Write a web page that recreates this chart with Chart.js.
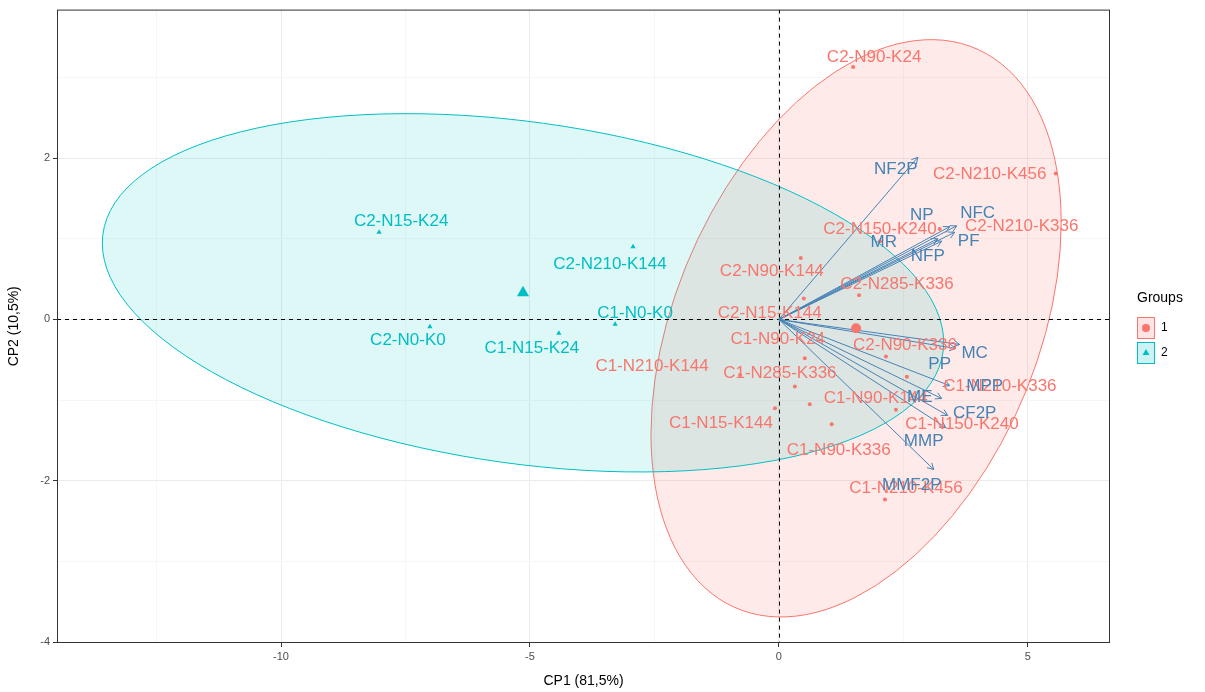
<!DOCTYPE html>
<html>
<head>
<meta charset="utf-8">
<script src="https://cdn.jsdelivr.net/npm/chart.js@4.4.0/dist/chart.umd.min.js"></script>
<style>
  html, body { margin: 0; padding: 0; background: #fff; }
</style>
</head>
<body>
<canvas id="chart" width="1205" height="692"></canvas>
<script>
// individuals, group 1 (circles)
const g1Names = ["C2-N90-K24", "C2-N210-K456", "C2-N210-K336", "C2-N150-K240", "C2-N90-K144",
  "C2-N285-K336", "C2-N15-K144", "C1-N90-K24", "C2-N90-K336", "C1-N210-K144", "C1-N285-K336",
  "C1-N90-K144", "C1-N15-K144", "C1-N90-K336", "C1-N210-K456", "C1-N150-K240", "C1-N210-K336"];
const g1X = [1.49, 5.56, 3.23, 2.03, 0.44, 1.61, 0.50, 0.52, 2.15, -0.78, 0.32, 0.62, -0.08, 1.06, 2.13, 2.35, 2.57];
const g1Y = [3.13, 1.81, 1.12, 0.97, 0.76, 0.30, 0.26, -0.48, -0.46, -0.69, -0.83, -1.05, -1.10, -1.30, -2.23, -1.12, -0.71];

// individuals, group 2 (triangles)
const g2Names = ["C2-N15-K24", "C2-N210-K144", "C2-N0-K0", "C1-N15-K24", "C1-N0-K0"];
const g2X = [-8.03, -2.93, -7.01, -4.42, -3.29];
const g2Y = [1.08, 0.90, -0.09, -0.17, -0.06];

// group means and ellipse covariance
const centroidX = [1.55, -5.14];
const centroidY = [-0.11, 0.33];
const ellSxx = [16.97, 71.4];
const ellSxy = [5.4, -5.2];
const ellSyy = [12.8, 4.93];

// variables (arrows)
const varNames = ["NF2P", "NP", "NFC", "MR", "PF", "NFP", "MC", "PP", "MPP", "ME", "CF2P", "MMP", "MMF2P"];
const varX = [2.79, 3.43, 3.57, 3.19, 3.53, 3.27, 3.63, 3.55, 3.43, 3.27, 3.39, 3.35, 3.11];
const varY = [2.01, 1.15, 1.16, 1.00, 1.08, 0.97, -0.31, -0.36, -0.82, -0.98, -1.19, -1.34, -1.86];

// ticks
const xTicks = [-12.5, -10, -7.5, -5, -2.5, 0, 2.5, 5];
const xMajor = [-10, -5, 0, 5];
const yTicks = [-4, -3, -2, -1, 0, 1, 2, 3];
const yMajor = [-4, -2, 0, 2];

// label offsets in px (repelled text)
const g1Off = [[21, -10], [-66, 1], [82, -3], [0, -12], [-29, 13], [38, -11], [-34, 15], [-27, -19],
  [19, -11], [-88, -9], [-15, -13], [66, -6], [-54, 15], [7, 26], [21, -11], [66, 15], [93, 10]];
const g2Off = [[22, -11], [-23, 17], [-22, 14], [-27, 15], [20, -11]];
const varOff = [[-22, 12], [-28, -11], [21, -13], [-54, 4], [14, 9], [-14, 15], [15, 9], [-16, 16],
  [35, 1], [-22, -1], [27, -2], [-22, 14], [-22, 16]];

const RED = "#F8766D";
const CYAN = "#00BFC4";
const BLUE = "#4682B4";
const FONT = "'Liberation Sans', Arial, sans-serif";

const pts = (xs, ys) => xs.map((x, i) => ({ x: x, y: ys[i] }));

const datasets = [];
varX.forEach((vx, i) => {
  datasets.push({
    data: [{ x: 0, y: 0 }, { x: vx, y: varY[i] }],
    showLine: true,
    borderColor: BLUE,
    borderWidth: 1,
    pointRadius: 0,
    order: 5
  });
});
datasets.push({
  data: pts(g1X, g1Y), pointStyle: "circle", pointRadius: 2,
  backgroundColor: RED, borderColor: RED, borderWidth: 0, order: 2
});
datasets.push({
  data: pts(g2X, g2Y), pointStyle: "triangle", pointRadius: 3,
  backgroundColor: CYAN, borderColor: CYAN, borderWidth: 0, order: 2
});
datasets.push({
  data: [{ x: centroidX[0], y: centroidY[0] }], pointStyle: "circle", pointRadius: 5,
  backgroundColor: RED, borderColor: RED, borderWidth: 0, order: 1
});
datasets.push({
  data: [{ x: centroidX[1], y: centroidY[1] }], pointStyle: "triangle", pointRadius: 7,
  backgroundColor: CYAN, borderColor: CYAN, borderWidth: 0, order: 1
});

function drawLabels(ctx, x, y, names, xs, ys, offs, color) {
  ctx.fillStyle = color;
  names.forEach((n, i) => {
    ctx.fillText(n, x.getPixelForValue(xs[i]) + offs[i][0], y.getPixelForValue(ys[i]) + offs[i][1]);
  });
}

const biplot = {
  id: "biplot",
  beforeDatasetsDraw(chart) {
    const { ctx, chartArea: a, scales: { x, y } } = chart;
    ctx.save();
    ctx.beginPath();
    ctx.rect(a.left, a.top, a.right - a.left, a.bottom - a.top);
    ctx.clip();
    const kx = x.getPixelForValue(1) - x.getPixelForValue(0);
    const ky = y.getPixelForValue(1) - y.getPixelForValue(0);
    const fills = ["rgba(248,118,109,0.15)", "rgba(0,191,196,0.13)"];
    const cols = [RED, CYAN];
    for (let g = 0; g < 2; g++) {
      const l11 = Math.sqrt(ellSxx[g]);
      const l21 = ellSxy[g] / l11;
      const l22 = Math.sqrt(ellSyy[g] - l21 * l21);
      ctx.save();
      ctx.beginPath();
      ctx.transform(kx * l11, ky * l21, 0, ky * l22, x.getPixelForValue(centroidX[g]), y.getPixelForValue(centroidY[g]));
      ctx.arc(0, 0, 1, 0, Math.PI * 2);
      ctx.restore();
      ctx.fillStyle = fills[g];
      ctx.fill();
      ctx.strokeStyle = cols[g];
      ctx.lineWidth = 1;
      ctx.stroke();
    }
    // dashed zero lines
    ctx.strokeStyle = "#000";
    ctx.lineWidth = 1;
    ctx.setLineDash([4, 4]);
    const x0 = Math.round(x.getPixelForValue(0)) + 0.5;
    const y0 = Math.round(y.getPixelForValue(0)) + 0.5;
    ctx.beginPath();
    ctx.moveTo(x0, a.top);
    ctx.lineTo(x0, a.bottom);
    ctx.moveTo(a.left, y0);
    ctx.lineTo(a.right, y0);
    ctx.stroke();
    ctx.restore();
  },
  afterDatasetsDraw(chart) {
    const { ctx, scales: { x, y } } = chart;
    ctx.save();
    // arrow heads
    ctx.strokeStyle = BLUE;
    ctx.lineWidth = 1;
    const ox = x.getPixelForValue(0), oy = y.getPixelForValue(0);
    varX.forEach((vx, i) => {
      const px = x.getPixelForValue(vx), py = y.getPixelForValue(varY[i]);
      const ang = Math.atan2(py - oy, px - ox);
      ctx.beginPath();
      ctx.moveTo(px - 7 * Math.cos(ang - 0.5), py - 7 * Math.sin(ang - 0.5));
      ctx.lineTo(px, py);
      ctx.lineTo(px - 7 * Math.cos(ang + 0.5), py - 7 * Math.sin(ang + 0.5));
      ctx.stroke();
    });
    // labels
    ctx.font = "17px " + FONT;
    ctx.textAlign = "center";
    ctx.textBaseline = "middle";
    drawLabels(ctx, x, y, g2Names, g2X, g2Y, g2Off, CYAN);
    drawLabels(ctx, x, y, g1Names, g1X, g1Y, g1Off, RED);
    drawLabels(ctx, x, y, varNames, varX, varY, varOff, BLUE);
    ctx.restore();
  },
  afterDraw(chart) {
    const { ctx, chartArea: a } = chart;
    ctx.save();
    // panel border
    ctx.strokeStyle = "#333333";
    ctx.lineWidth = 1;
    ctx.strokeRect(a.left + 0.5, a.top + 0.5, a.right - a.left - 1, a.bottom - a.top - 1);
    // legend
    ctx.fillStyle = "#000";
    ctx.font = "14px " + FONT;
    ctx.textAlign = "left";
    ctx.textBaseline = "middle";
    ctx.fillText("Groups", 1137, 298);
    const keyFill = ["rgba(248,118,109,0.2)", "rgba(0,191,196,0.2)"];
    const keyCol = [RED, CYAN];
    const styles = ["circle", "triangle"];
    for (let g = 0; g < 2; g++) {
      const ky = 317 + g * 25;
      ctx.fillStyle = keyFill[g];
      ctx.fillRect(1137, ky, 18, 22);
      ctx.strokeStyle = keyCol[g];
      ctx.strokeRect(1137.5, ky + 0.5, 17, 21);
      Chart.helpers.drawPoint(ctx, { pointStyle: styles[g], radius: 4, borderWidth: 0 }, 1146, ky + 11);
      ctx.fillStyle = keyCol[g];
      ctx.fill();
      ctx.fillStyle = "#000";
      ctx.font = "12px " + FONT;
      ctx.fillText(String(g + 1), 1161, ky + 11);
    }
    ctx.restore();
  }
};

const gridCol = (major) => (c) => (c.tick && major.includes(c.tick.value)) ? "#EBEBEB" : "#F6F6F6";
const tickCol = (major) => (c) => (c.tick && major.includes(c.tick.value)) ? "#333333" : "rgba(0,0,0,0)";

const chart = new Chart(document.getElementById("chart"), {
  type: "scatter",
  data: { datasets: datasets },
  options: {
    responsive: false,
    animation: false,
    events: [],
    layout: { padding: { left: 0, right: 95, top: 8, bottom: 0 } },
    plugins: { legend: { display: false }, tooltip: { enabled: false } },
    scales: {
      x: {
        type: "linear",
        min: -14.5,
        max: 6.65,
        afterBuildTicks: (s) => { s.ticks = xTicks.map(v => ({ value: v })); },
        afterFit: (s) => { s.height = 49; },
        border: { display: false },
        grid: { color: gridCol(xMajor), tickColor: tickCol(xMajor), tickLength: 4, lineWidth: 1 },
        ticks: {
          autoSkip: false, maxRotation: 0, padding: 3, color: "#4D4D4D",
          font: { size: 11, family: FONT },
          callback: (v) => xMajor.includes(v) ? String(v) : ""
        },
        title: { display: true, text: "CP1 (81,5%)", color: "#000", font: { size: 14, family: FONT }, padding: { top: 4, bottom: 2 } }
      },
      y: {
        type: "linear",
        min: -4.01,
        max: 3.84,
        afterBuildTicks: (s) => { s.ticks = yTicks.map(v => ({ value: v })); },
        afterFit: (s) => { s.width = 57; },
        border: { display: false },
        grid: { color: gridCol(yMajor), tickColor: tickCol(yMajor), tickLength: 4, lineWidth: 1 },
        ticks: {
          autoSkip: false, padding: 3, color: "#4D4D4D",
          font: { size: 11, family: FONT },
          callback: (v) => yMajor.includes(v) ? String(v) : ""
        },
        title: { display: true, text: "CP2 (10,5%)", color: "#000", font: { size: 14, family: FONT }, padding: { top: 6, bottom: 4 } }
      }
    }
  },
  plugins: [biplot]
});
</script>
</body>
</html>
